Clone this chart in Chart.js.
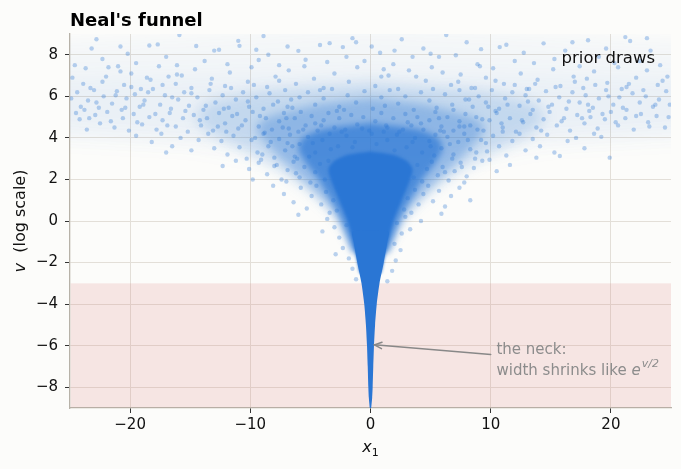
<!DOCTYPE html>
<html><head><meta charset="utf-8">
<script src="https://cdn.jsdelivr.net/npm/chart.js@4.4.1/dist/chart.umd.min.js"></script>
<style>html,body{margin:0;padding:0;background:#fcfcfa;}#wrap{width:681px;height:469px;position:relative;}</style>
</head><body><div id="wrap"><canvas id="c"></canvas></div>
<script>
// ---- tick labels / ranges ----
const xTicks = [-20, -10, 0, 10, 20];
const yTicks = [-8, -6, -4, -2, 0, 2, 4, 6, 8];
const xRange = [-25, 25];
const vRange = [-9, 9];
const neckBand = [-9, -3];

// ---- sparse prior draws (x1, v) ----
const haloPoints = [
[-24.6,7.5],[-23.2,8.3],[-22.3,7.8],[-21.0,7.45],[-20.2,8.05],[-19.5,7.6],[-18.4,8.45],[-17.7,8.5],[-17.0,7.9],[-16.1,7.5],[-15.9,8.95],[-14.5,8.42],[-13.8,7.7],[-12.6,8.24],[-11.9,7.55],[-11.0,8.67],[-10.9,8.43],[-9.5,8.24],[-8.5,8.0],[-7.6,7.5],[-6.0,8.19],[-5.4,7.76],[-4.2,8.47],[-3.4,8.56],[-2.3,8.37],[-1.2,8.6],[-0.5,7.7],[0.8,8.1],[1.9,7.55],[2.6,8.75],[3.5,7.9],[4.4,8.3],[5.7,7.9],[7.1,7.98],[8.0,8.6],[8.9,7.55],[9.2,8.27],[10.75,8.37],[11.3,8.48],[12.75,8.1],[13.6,7.6],[14.4,8.55],[15.3,7.8],[16.2,8.2],[17.4,7.45],[18.1,8.7],[19.0,7.9],[20.3,7.6],[21.2,8.85],[21.6,8.66],[22.4,7.7],[23.3,8.2],[24.1,7.5],[-8.9,8.9],[6.3,8.95],
[-24.8,6.9],[-23.7,7.35],[-23.3,6.4],[-22.0,6.95],[-21.8,7.4],[-20.5,6.55],[-19.9,7.1],[-19.1,6.35],[-18.3,6.8],[-17.6,7.45],[-16.2,6.6],[-15.7,7.0],[-14.9,6.4],[-14.6,7.3],[-13.2,6.85],[-12.1,6.5],[-11.7,7.15],[-10.2,6.7],[-9.9,7.4],[-8.6,6.45],[-7.9,6.95],[-6.8,7.25],[-6.2,6.6],[-4.7,6.85],[-3.9,6.4],[-3.0,7.1],[-1.8,6.7],[-1.1,7.4],[0.4,6.5],[1.5,7.0],[2.3,6.35],[3.2,7.25],[4.6,6.75],[5.1,7.4],[6.7,6.55],[7.5,7.05],[8.4,6.4],[9.6,6.9],[10.2,7.35],[11.1,6.6],[12.5,7.1],[13.0,6.35],[13.9,6.8],[15.2,7.3],[15.8,6.5],[16.9,6.95],[17.7,6.4],[18.6,7.2],[19.7,6.65],[20.6,7.4],[21.3,6.45],[22.1,6.9],[23.0,7.25],[23.9,6.55],[24.7,6.95],[-5.5,7.45],[0.9,6.95],[9.1,7.45],[-16.8,6.95],[18.0,6.85],
[-24.9,5.9],[-24.4,6.2],[-24.1,5.5],[-23.5,5.8],[-23.0,6.3],[-22.6,5.45],[-22.2,6.0],[-21.5,5.65],[-21.1,6.25],[-20.7,5.35],[-20.3,5.9],[-19.6,6.1],[-19.2,5.5],[-18.8,5.8],[-18.1,6.35],[-17.5,5.6],[-17.1,6.05],[-16.6,5.4],[-16.0,5.85],[-15.5,6.2],[-15.1,5.55],[-14.4,5.95],[-13.9,5.35],[-13.4,6.3],[-12.9,5.7],[-12.3,6.05],[-11.8,5.45],[-11.2,5.85],[-10.6,6.2],[-10.1,5.5],[-9.5,5.95],[-8.9,5.4],[-8.4,6.15],[-23.8,5.35],[-18.5,6.2],
[-7.7,5.75],[-7.1,6.3],[-6.5,5.45],[-5.9,5.95],[-5.2,6.2],[-4.6,5.6],[-3.9,5.9],[-3.2,6.35],[-2.6,5.5],[-1.9,6.05],[-1.2,5.7],[-0.5,6.25],[0.2,5.4],[0.9,5.95],[1.6,6.3],[2.3,5.65],[2.9,6.0],[3.6,5.35],[4.2,6.2],[4.9,5.8],[5.5,5.45],[6.2,6.1],[6.8,5.6],[7.4,6.3],[7.9,5.85],[-6.9,5.5],[-2.2,5.35],[1.2,5.55],[5.2,6.35],[-4.2,6.3],
[8.5,5.5],[9.0,6.0],[9.6,5.7],[10.1,6.3],[10.7,5.4],[11.2,5.9],[11.8,6.2],[12.4,5.55],[12.9,6.05],[13.5,5.35],[14.0,5.8],[14.6,6.25],[15.1,5.6],[15.7,5.95],[16.3,5.4],[16.8,6.2],[17.4,5.7],[17.9,6.05],[18.5,5.45],[19.0,5.9],[19.6,6.3],[20.2,5.6],[20.7,5.95],[21.3,5.35],[21.8,6.15],[22.4,5.7],[22.9,6.0],[23.5,5.5],[24.0,5.85],[24.6,6.25],[24.9,5.6],[13.2,6.35],[18.2,5.3],[20.9,6.35],[10.4,5.3],
[-24.2,4.9],[-23.6,4.4],[-22.9,5.1],[-22.5,4.7],[-21.9,5.25],[-21.3,4.5],[-20.6,4.95],[-20.1,4.35],[-19.7,5.15],[-19.0,4.65],[-18.4,5.0],[-17.8,4.4],[-17.3,4.85],[-16.7,5.2],[-16.2,4.55],[-15.6,4.95],[-15.2,4.3],[-14.7,5.1],[-14.1,4.6],[-13.6,4.95],[-13.1,4.35],[-12.6,5.2],[-12.1,4.7],[-11.5,5.05],[-11.0,4.45],[-10.4,4.85],[-9.8,5.25],[-9.3,4.55],[-8.7,4.95],[-8.2,4.4],
[-7.6,4.8],[-7.2,5.2],[-6.8,4.45],[-6.3,4.95],[-5.8,5.25],[-5.4,4.6],[-4.9,5.05],[-4.4,4.35],[-3.9,4.85],[-3.5,5.2],[-3.0,4.5],[-2.6,4.95],[-2.1,4.4],[-1.6,5.1],[-1.1,4.65],[-0.6,5.0],[-0.1,4.35],[0.4,4.8],[0.9,5.2],[1.4,4.5],[1.9,4.95],[2.4,4.3],[2.9,5.15],[3.4,4.6],[3.9,5.0],[4.4,4.4],[4.9,4.85],[5.4,5.25],[5.9,4.55],[6.4,5.0],[6.9,4.35],[7.4,4.8],[7.9,5.15],[-6.0,4.3],[-2.8,5.3],[1.1,4.3],[3.1,4.75],[5.7,4.95],[-4.6,4.7],[6.1,4.3],
[8.3,4.6],[8.8,5.0],[9.4,4.35],[9.9,4.85],[10.5,5.2],[11.0,4.5],[11.6,4.95],[12.1,4.3],[12.7,4.75],[13.3,5.15],[13.8,4.5],[14.4,4.9],[14.9,5.25],[15.5,4.6],[16.1,4.95],[16.6,4.35],[17.2,5.1],[17.8,4.7],[18.3,5.0],[18.9,4.45],[19.5,4.9],[20.0,5.25],[20.6,4.6],[21.2,4.95],[21.9,4.4],[22.5,5.15],[23.1,4.75],[23.8,5.05],[24.5,4.5],[19.2,4.05],
[-19.5,4.1],[-18.2,3.8],[-17.4,4.2],[-16.5,3.6],[-15.8,4.0],[-14.9,3.4],[-14.3,3.9],[-13.5,4.2],[-13.0,3.5],[-12.4,3.85],[-11.9,3.2],[-11.4,4.1],[-10.9,3.55],[-10.3,3.0],[-9.9,3.9],[-9.4,3.3],[-8.9,4.2],[-8.5,3.6],[-8.0,3.05],[-7.6,3.95],[-7.1,3.4],[-6.7,4.15],[-6.3,3.1],[-5.9,3.7],[-17.0,3.3],[-12.0,4.3],[-9.1,2.95],[-6.9,3.75],
[-5.2,4.05],[-4.6,3.3],[-4.0,3.9],[-3.4,4.2],[-2.7,3.6],[-2.0,4.1],[-1.3,3.8],[0.1,4.2],[1.4,3.9],[2.2,4.15],[3.0,3.55],[3.7,4.0],[4.3,3.3],[4.9,3.85],[5.4,4.15],
[5.9,3.5],[6.4,4.05],[6.9,3.2],[7.3,3.8],[7.8,4.2],[8.3,3.45],[8.7,3.0],[9.2,3.9],[9.7,3.35],[10.2,4.1],[10.7,3.6],[11.3,3.15],[11.8,3.85],[12.4,4.2],[12.9,3.4],[13.5,3.95],[14.1,3.6],[14.7,4.15],[15.3,3.3],[15.75,3.13],[16.4,3.85],[17.1,4.0],[17.8,3.5],[18.6,4.2],[19.9,3.05],[13.8,3.05],[9.9,2.95],[11.0,4.3],
[-11.2,2.9],[-10.1,2.5],[-9.3,2.8],[-8.6,2.25],[-8.0,2.65],[-7.4,2.0],[-6.9,2.45],[-6.4,2.85],[-5.9,2.1],[-5.5,2.6],[-5.0,1.85],[-4.6,2.35],[-4.2,2.75],[-3.8,2.0],[-3.5,2.9],[3.6,2.1],[3.9,2.7],[4.3,1.9],[4.7,2.5],[5.1,2.85],[5.6,2.2],[6.0,2.6],[6.5,1.95],[7.0,2.4],[7.5,2.8],[8.0,2.15],[8.6,2.55],[9.3,2.9],[10.5,2.4],[7.8,1.85],[-7.0,1.9],[-9.8,2.0],[11.6,2.7],[-12.3,2.65],[-6.1,3.0],[6.8,3.0],
[-7.2,1.3],[-6.4,0.9],[-5.8,1.6],[-5.3,0.6],[-4.9,1.2],[-4.5,1.7],[-4.1,0.8],[-3.7,1.4],[-3.4,0.4],[-3.1,1.0],[-2.8,0.5],[2.8,0.55],[3.1,1.1],[3.4,0.4],[3.7,1.5],[4.0,0.8],[4.4,1.3],[4.8,1.7],[5.2,0.95],[5.7,1.45],[6.2,0.7],[6.7,1.2],[7.4,1.6],[-8.1,1.7],[8.3,1.0],[-6.0,0.3],[5.9,0.35],
[-3.6,0.1],[-3.0,-0.3],[-2.6,-0.8],[-2.3,-1.3],[-2.0,-0.2],[-1.8,-1.8],[-1.5,-2.3],[-1.2,-2.8],[2.2,-0.1],[2.6,-0.6],[2.9,0.2],[2.5,-1.4],[2.1,-1.9],[1.8,-2.4],[1.4,-2.9],[3.3,-0.4],[-4.0,-0.5],[4.2,0.0],[-2.9,-1.6],[2.0,-1.1],
[-24.5,5.2],[-23.9,6.6],[-23.4,4.95],[-22.8,5.7],[-22.3,6.7],[-21.6,4.8],[-21.2,6.05],[-20.8,7.2],[-20.4,5.45],[-19.9,6.45],[-19.4,4.75],[-18.9,5.6],[-18.6,6.9],[-17.9,5.15],[-17.3,6.55],[-16.9,4.6],[-16.5,5.95],[-16.1,7.05],[-15.4,5.3],[-14.9,6.15],[-14.2,4.85],[-13.7,5.55],[-13.3,6.6],[-12.7,4.55],[-12.2,5.4],[-11.6,6.4],[-11.1,5.15],[-10.7,4.6],[-10.2,5.75],[-9.7,6.55],[-9.2,5.05],[-8.8,4.25],[-8.1,5.6],[-7.6,6.75],[-7.0,4.95],[-6.6,5.85],
[6.9,5.35],[7.3,6.7],[7.8,4.55],[8.2,5.85],[8.7,6.4],[9.3,4.9],[9.8,5.5],[10.4,6.75],[10.9,4.7],[11.4,5.6],[12.0,6.55],[12.6,4.85],[13.1,5.75],[13.7,6.6],[14.2,4.35],[14.8,5.5],[15.4,6.45],[15.9,4.8],[16.5,5.75],[17.0,6.7],[17.6,4.95],[18.1,5.6],[18.7,6.55],[19.3,5.15],[19.8,6.0],[20.4,4.75],[21.0,5.45],[21.5,6.6],[22.1,5.05],[22.7,6.3],[23.2,4.55],[23.7,5.6],[24.3,6.75],[24.8,5.0],
[-9.6,4.0],[-8.3,3.8],[-7.3,4.5],[-6.5,3.6],[-5.6,4.4],[-4.8,3.75],[-4.1,4.6],[-3.3,3.45],[-2.4,4.3],[-1.5,3.55],[-0.7,4.45],[0.5,3.7],[1.3,4.6],[2.0,3.4],[2.7,4.4],[3.5,3.8],[4.2,4.7],[5.0,3.6],[5.8,4.35],[6.6,3.7],[7.4,4.55],[8.1,3.9],[8.9,4.4],[9.6,3.75],[-9.0,3.2],[-7.8,2.7],[-6.2,2.3],[-5.1,3.1],[5.3,3.15],[6.2,2.35],[7.6,2.6],[8.8,3.3],
[-3.6,7.65],[-2.0,7.9],[0.1,8.4],[1.1,7.3],[2.0,8.2],[3.8,6.95],[5.0,8.05],[6.0,7.15],[-6.9,8.4],[-9.3,7.75],[-13.0,8.2],[-20.8,8.4],[-22.8,8.75],[16.8,8.6],[19.6,8.3],[23.0,8.8],[12.0,7.7],[-1.5,8.8]
];

// ---- density outlines: v levels and half-widths in x1 ----
const neckV    = [-9, -8.5, -8, -7, -6, -5, -4, -3, -2, -1, -0.5];
const neckHalf = [0.06, 0.14, 0.18, 0.23, 0.29, 0.38, 0.52, 0.75, 1.1, 1.4, 1.5];
const coreV    = [-2.5, -1, 0, 1, 2, 2.5, 2.9, 3.2, 3.35];
const coreHalf = [0.9, 1.45, 1.9, 2.6, 3.3, 3.5, 3.0, 1.8, 0];
const denseV    = [-1.5, -0.5, 0.5, 1.5, 2.0, 2.5, 3.0, 3.5, 4.0, 4.4, 4.7];
const denseHalf = [1.5, 2.1, 2.8, 3.8, 4.3, 5.0, 5.6, 6.0, 5.6, 4.0, 0];
const midV    = [-1.5, 0, 1, 2, 3, 4, 4.5, 5.0, 5.6, 5.9];
const midHalf = [1.3, 2.6, 4.0, 5.7, 7.5, 9.0, 9.5, 8.5, 4.5, 0];
const outerV    = [-1, 0.5, 1.5, 2.5, 3.5, 4.3, 5.0, 5.7, 6.2, 6.6];
const outerHalf = [1.4, 3.1, 5.2, 7.8, 10.8, 13.5, 14.5, 13.5, 9.5, 0];
const sideAV    = [3.0, 3.7, 4.1, 5.0, 6.5, 7.8, 8.6, 9.3];
const sideAHalf = [8, 15, 28, 28, 28, 28, 28, 0];
const sideBV    = [3.8, 4.4, 5.0, 6.0, 6.8, 7.2];
const sideBHalf = [10, 28, 28, 28, 28, 0];

const BLUE = '42,118,212';
function outline(vs, hs) {
  const pts = [];
  for (let i = 0; i < vs.length; i++) pts.push({x: -hs[i], y: vs[i]});
  for (let i = vs.length - 1; i >= 0; i--) pts.push({x: hs[i], y: vs[i]});
  return pts;
}
function shapeDs(vs, hs, alpha, order, blur, tension) {
  return {data: outline(vs, hs), showLine: true, fill: 'shape', tension: tension,
    backgroundColor: `rgba(${BLUE},${alpha})`, borderWidth: 0, borderColor: 'rgba(0,0,0,0)',
    pointRadius: 0, order: order, blurPx: blur};
}

// soften the density layers (runs before the filler plugin)
const blurFx = {
  id: 'blurFx',
  beforeDatasetDraw(chart, args) {
    const b = chart.data.datasets[args.index].blurPx;
    if (b) { chart.ctx.save(); chart.ctx.filter = `blur(${b}px)`; }
  },
  afterDatasetDraw(chart, args) {
    const b = chart.data.datasets[args.index].blurPx;
    if (b) chart.ctx.restore();
  }
};
const fillerPlugin = Chart.registry.plugins.get('filler');
if (fillerPlugin) { Chart.unregister(fillerPlugin); Chart.register(blurFx); Chart.register(fillerPlugin); }
else { Chart.register(blurFx); }

const FONT = "'DejaVu Sans', sans-serif";

const deco = {
  id: 'deco',
  beforeDraw(chart) {
    const c = chart.ctx; c.save(); c.fillStyle = '#fcfcfa'; c.fillRect(0, 0, chart.width, chart.height); c.restore();
  },
  beforeDatasetsDraw(chart) {
    const {ctx, chartArea: a, scales: {y}} = chart;
    const yTop = y.getPixelForValue(neckBand[1]), yBot = y.getPixelForValue(neckBand[0]);
    ctx.save(); ctx.fillStyle = 'rgba(220,110,110,0.16)';
    ctx.fillRect(a.left + 0.7, yTop, a.right - a.left - 0.7, yBot - yTop - 0.7);
    ctx.restore();
  },
  afterDraw(chart) {
    const {ctx, chartArea: a, scales: {x, y}} = chart;
    ctx.save();
    ctx.fillStyle = '#000'; ctx.textBaseline = 'alphabetic'; ctx.textAlign = 'left';
    ctx.font = `bold 18px ${FONT}`; ctx.fillText("Neal's funnel", a.left, 25.5);
    ctx.font = `16.5px ${FONT}`; ctx.textAlign = 'right'; ctx.fillStyle = '#111';
    ctx.fillText('prior draws', a.right - 16, a.top + 28.5);
    ctx.textAlign = 'left'; ctx.fillStyle = '#111';
    const cx = (a.left + a.right) / 2;
    ctx.font = `italic 16px ${FONT}`; const wx = ctx.measureText('x').width;
    ctx.font = `11px ${FONT}`; const w1 = ctx.measureText('1').width;
    const sx = cx - (wx + w1) / 2;
    ctx.font = `italic 16px ${FONT}`; ctx.fillText('x', sx, 452);
    ctx.font = `11px ${FONT}`; ctx.fillText('1', sx + wx, 455.5);
    ctx.save(); ctx.translate(25, (a.top + a.bottom) / 2); ctx.rotate(-Math.PI / 2);
    ctx.font = `italic 16px ${FONT}`; const wv = ctx.measureText('v').width;
    ctx.font = `16px ${FONT}`; const wr = ctx.measureText('  (log scale)').width;
    let sy = -(wv + wr) / 2;
    ctx.font = `italic 16px ${FONT}`; ctx.fillText('v', sy, 0);
    ctx.font = `16px ${FONT}`; ctx.fillText('  (log scale)', sy + wv, 0);
    ctx.restore();
    const hx = x.getPixelForValue(0.33), hy = y.getPixelForValue(-5.96);
    const tx = x.getPixelForValue(10.0), ty = y.getPixelForValue(-6.42);
    ctx.strokeStyle = '#888'; ctx.lineWidth = 1.5; ctx.lineCap = 'round';
    ctx.beginPath(); ctx.moveTo(tx, ty); ctx.lineTo(hx, hy); ctx.stroke();
    const ang = Math.atan2(hy - ty, hx - tx);
    ctx.beginPath();
    ctx.moveTo(hx - 8 * Math.cos(ang - 0.42), hy - 8 * Math.sin(ang - 0.42));
    ctx.lineTo(hx, hy);
    ctx.lineTo(hx - 8 * Math.cos(ang + 0.42), hy - 8 * Math.sin(ang + 0.42));
    ctx.stroke();
    ctx.fillStyle = '#8c8c8c';
    const lx = x.getPixelForValue(10.48), ly = y.getPixelForValue(-6.42);
    ctx.font = `15px ${FONT}`; ctx.fillText('the neck:', lx, ly);
    const l2 = 'width shrinks like ';
    ctx.fillText(l2, lx, ly + 20.5);
    const w2 = ctx.measureText(l2).width;
    ctx.font = `italic 15px ${FONT}`; ctx.fillText('e', lx + w2, ly + 20.5);
    const we = ctx.measureText('e').width;
    ctx.font = `italic 11px ${FONT}`; ctx.fillText('v/2', lx + w2 + we + 1, ly + 13);
    ctx.restore();
  }
};

new Chart(document.getElementById('c'), {
  type: 'scatter',
  data: {datasets: [
    shapeDs(neckV, neckHalf, 1.0, 0, 0, 0.2),
    shapeDs(coreV, coreHalf, 1.0, 0.5, 1.8, 0.25),
    shapeDs(denseV, denseHalf, 0.68, 1, 3, 0.25),
    {data: haloPoints.map(p => ({x: p[0], y: p[1]})), pointRadius: 2.2, pointHoverRadius: 2.2,
      backgroundColor: `rgba(${BLUE},0.32)`, borderWidth: 0, order: 2},
    shapeDs(midV, midHalf, 0.34, 3, 5, 0.2),
    shapeDs(outerV, outerHalf, 0.2, 4, 7, 0.2),
    shapeDs(sideBV, sideBHalf, 0.045, 5, 10, 0),
    shapeDs(sideAV, sideAHalf, 0.045, 6, 10, 0)
  ]},
  options: {
    responsive: true, maintainAspectRatio: false, animation: false,
    layout: {padding: {top: 34, right: 10, left: 0, bottom: 0}},
    plugins: {legend: {display: false}, tooltip: {enabled: false}},
    scales: {
      x: {type: 'linear', min: xRange[0], max: xRange[1],
        afterBuildTicks: s => { s.ticks = xTicks.map(v => ({value: v})); },
        afterFit: s => { s.height = 61; },
        ticks: {color: '#111', font: {family: FONT, size: 15}, padding: 3,
          callback: v => String(v).replace('-', '\u2212')},
        grid: {color: '#e3dfd8', lineWidth: 1, tickColor: '#333', tickLength: 5, tickWidth: 1},
        border: {display: true, color: '#b7b2a8', width: 1.3}},
      y: {type: 'linear', min: vRange[0], max: vRange[1],
        afterBuildTicks: s => { s.ticks = yTicks.map(v => ({value: v})); },
        afterFit: s => { s.width = 70; },
        ticks: {color: '#111', font: {family: FONT, size: 15}, padding: 7,
          callback: v => String(v).replace('-', '\u2212')},
        grid: {color: '#e3dfd8', lineWidth: 1, tickColor: '#333', tickLength: 5, tickWidth: 1},
        border: {display: true, color: '#b7b2a8', width: 1.3}}
    }
  },
  plugins: [deco]
});
</script></body></html>
